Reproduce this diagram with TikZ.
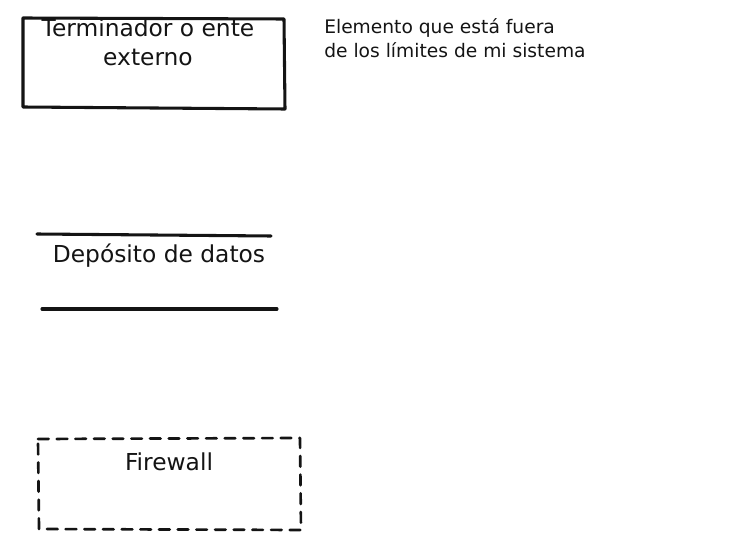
\documentclass[tikz,border=0pt]{standalone}
\usepackage{fontspec}
\setmainfont{DejaVu Sans}
\usepackage{xcolor}
\usepackage{tikz}
\usetikzlibrary{positioning}
\definecolor{Trazo}{RGB}{20,20,20}
\tikzset{
  trazo/.style={draw=Trazo,line width=2.3pt,line cap=round,line join=round},
  cortafuegos/.style={trazo,line width=2pt,dash pattern=on 8pt off 6pt},
  rotulo/.style={font=\fontsize{17.5}{22}\selectfont,text=Trazo,align=center,inner sep=0pt},
  nota/.style={font=\fontsize{14}{18}\selectfont,text=Trazo,align=left,anchor=north west,inner sep=0pt}
}

\begin{document}
\begin{tikzpicture}[x=0.75pt,y=-0.75pt]
  \useasboundingbox (0,0) rectangle (754,556);

  % terminador
  \draw[trazo] (23,18) -- (284,19) -- (285,109) -- (23,107) -- cycle;
  \node[rotulo] (terminador) at (148,42) {Terminador o ente\\externo};
  \node[nota] (nota) at (324,18) {Elemento que está fuera\\de los límites de mi sistema};

  % deposito de datos
  \draw[trazo] (37,234) -- (271,236);
  \draw[trazo] (42,309) -- (277,309);
  \node[rotulo] (deposito) at (159,256) {Depósito de datos};

  % firewall
  \draw[cortafuegos] (38,439) -- (300,438) -- (301,530) -- (39,529) -- cycle;
  \node[rotulo] (firewall) at (169,462) {Firewall};
\end{tikzpicture}
\end{document}
